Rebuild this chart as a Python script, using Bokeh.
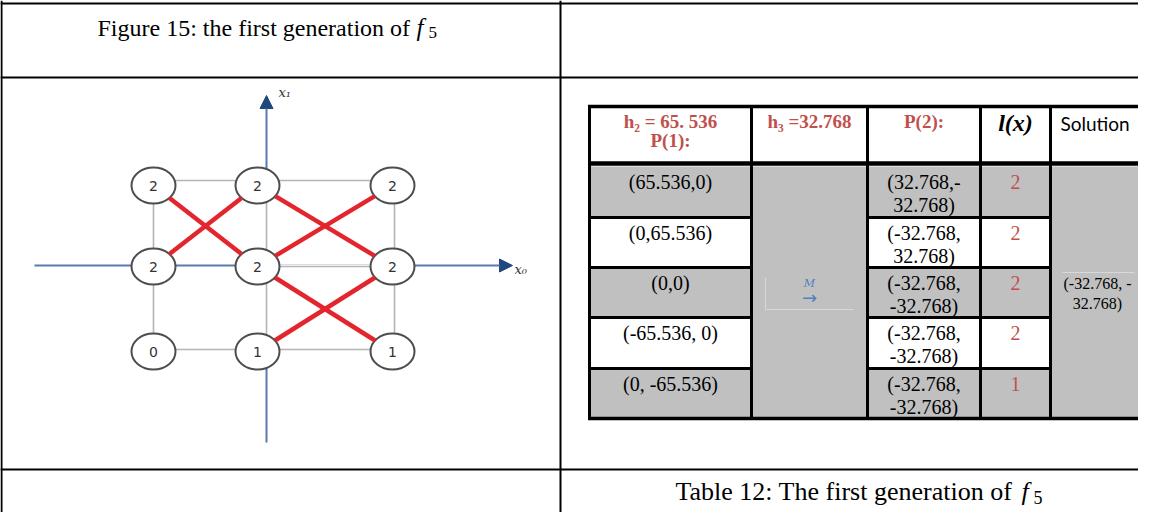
import math
from bokeh.plotting import figure
from bokeh.models import Range1d, Arrow, NormalHead
from bokeh.core.properties import value
from bokeh.embed import file_html
from bokeh.resources import INLINE

# ---------------- data ----------------
figure_caption = "Figure 15: the first generation of"
table_caption = "Table 12: The first generation of"
caption_func = "f"
caption_sub = "5"

# diagram nodes (grid coordinates x0, x1) and their l(x) values
node_x0 = [-1, 0, 1, -1, 0, 1, -1, 0, 1]
node_x1 = [1, 1, 1, 0, 0, 0, -1, -1, -1]
node_val = ["2", "2", "2", "2", "2", "2", "0", "1", "1"]
# red (generation) links between nodes
red_from = [0, 3, 1, 4, 4, 7]
red_to = [4, 1, 5, 2, 8, 5]
# dotted grid links
grid_from = [0, 1, 4, 6, 7, 0, 3, 1, 4, 2, 5]
grid_to = [1, 2, 5, 7, 8, 3, 6, 4, 7, 5, 8]
axis_labels = ["x\u2081", "x\u2080"]

# table
header_p1 = ["h\u2082 = 65. 536", "P(1):"]
header_h3 = "h\u2083 =32.768"
header_p2 = "P(2):"
header_lx = "l(x)"
header_sol = "Solution"
p1_points = ["(65.536,0)", "(0,65.536)", "(0,0)", "(-65.536, 0)", "(0, -65.536)"]
p2_line1 = ["(32.768,-", "(-32.768,", "(-32.768,", "(-32.768,", "(-32.768,"]
p2_line2 = ["32.768)", "32.768)", "-32.768)", "-32.768)", "-32.768)"]
lx_values = ["2", "2", "2", "2", "1"]
solution_lines = ["(-32.768, -", "32.768)"]
mutation_label = "M"
mutation_arrow = "\u2192"

# ---------------- layout (reference pixel frame) ----------------
SERIF = value("Liberation Serif")
RED_T = "#c0504d"
GRAY = "#c0c0c0"

p = figure(width=1138, height=512, x_range=Range1d(0, 1138), y_range=Range1d(512, 0),
           output_backend="svg", toolbar_location=None, x_axis_type=None, y_axis_type=None,
           min_border=0, outline_line_color=None, background_fill_color="white")
p.grid.visible = False

# document frame lines
p.segment(x0=[560, 1, 0, 0, 0], y0=[0, 0, 3, 77, 469], x1=[560, 1, 1160, 1160, 1160],
          y1=[530, 530, 3, 77, 469], line_color="black", line_width=2)

# captions
p.text(x=[97], y=[27], text=[figure_caption], text_font=SERIF, text_font_size="24px",
       text_align="left", text_baseline="alphabetic", text_color="black")
p.text(x=[416], y=[27], text=[caption_func], text_font=SERIF, text_font_size="25px",
       text_font_style="italic", text_align="left", text_baseline="alphabetic", text_color="black")
p.text(x=[428], y=[32], text=[caption_sub], text_font=SERIF, text_font_size="17px",
       text_align="left", text_baseline="alphabetic", text_color="black")

p.text(x=[675], y=[491], text=[table_caption], text_font=SERIF, text_font_size="26px",
       text_align="left", text_baseline="alphabetic", text_color="black")
p.text(x=[1021], y=[491], text=[caption_func], text_font=SERIF, text_font_size="26px",
       text_font_style="italic", text_align="left", text_baseline="alphabetic", text_color="black")
p.text(x=[1033], y=[497], text=[caption_sub], text_font=SERIF, text_font_size="18px",
       text_align="left", text_baseline="alphabetic", text_color="black")

# ---------------- diagram ----------------
col_px = {-1: 153, 0: 257, 1: 392}
row_px = {1: 185, 0: 266, -1: 351}
gcol_px = {-1: 153, 0: 266, 1: 394}
grow_px = {1: 180, 0: 266, -1: 349}
AX = "#5b7bb0"
HEAD = "#1f497d"
axis_x, axis_y = 266, 265

for xs, ys, xe, ye in ((axis_x, 442, axis_x, 95), (34, axis_y, 512, axis_y)):
    p.add_layout(Arrow(end=NormalHead(size=13, fill_color=HEAD, line_color=HEAD),
                       x_start=xs, y_start=ys, x_end=xe, y_end=ye,
                       line_color=AX, line_width=2, level="underlay"))
p.text(x=[278, 514], y=[92, 269], text=axis_labels, text_font=value("DejaVu Serif"),
       text_font_size="13px", text_font_style="italic", text_color="#333333",
       text_align="left", text_baseline="middle")

gx0 = [gcol_px[node_x0[a]] for a in grid_from]
gy0 = [grow_px[node_x1[a]] for a in grid_from]
gx1 = [gcol_px[node_x0[b]] for b in grid_to]
gy1 = [grow_px[node_x1[b]] for b in grid_to]
p.segment(x0=gx0, y0=gy0, x1=gx1, y1=gy1, line_color="white", line_width=4)
p.segment(x0=gx0, y0=gy0, x1=gx1, y1=gy1, line_color="#6a6a6a", line_width=1.6,
          line_dash="1 1")

nx = [col_px[v] for v in node_x0]
ny = [row_px[v] for v in node_x1]
EW, EH = 44, 36
p.ellipse(x=nx, y=ny, width=EW, height=EH, width_units="screen", height_units="screen",
          fill_color="white", line_color="#4d4d4d", line_width=2)
p.text(x=nx, y=ny, text=node_val, text_font=value("DejaVu Sans"), text_font_size="14px",
       text_color="#333333", text_align="center", text_baseline="middle")

a, b = EW / 2, EH / 2
rx0, ry0, rx1, ry1 = [], [], [], []
for f, t in zip(red_from, red_to):
    xa, ya, xb, yb = nx[f], ny[f], nx[t], ny[t]
    dx, dy = xb - xa, yb - ya
    s = 1.0 / math.sqrt((dx / a) ** 2 + (dy / b) ** 2)
    rx0.append(xa + dx * s); ry0.append(ya + dy * s)
    rx1.append(xb - dx * s); ry1.append(yb - dy * s)
p.segment(x0=rx0, y0=ry0, x1=rx1, y1=ry1, line_color="#e3262e", line_width=4.5)

# ---------------- table ----------------
col_edges = [589, 751, 867, 980, 1050, 1170]
row_edges = [166, 217, 267, 317, 368, 418]
t_top, t_head = 106, 163
nrows = len(p1_points)

# gray shading
gl, gr, gt, gb = [], [], [], []
for i in range(nrows):
    if i % 2 == 0:
        for c in (0, 2, 3):
            gl.append(col_edges[c]); gr.append(col_edges[c + 1])
            gt.append(row_edges[i]); gb.append(row_edges[i + 1])
for c in (1, 4):
    gl.append(col_edges[c]); gr.append(col_edges[c + 1])
    gt.append(row_edges[0]); gb.append(row_edges[-1])
p.quad(left=gl, right=gr, top=gt, bottom=gb, fill_color=GRAY, line_color=None)

# faint boxes
p.segment(x0=[765, 765, 1062], y0=[277, 309, 272], x1=[765, 853, 1134], y1=[309, 309, 272],
          line_color="#d9d9d9", line_width=1)

# borders
sx0, sy0, sx1, sy1 = [], [], [], []
for x in col_edges[:-1]:
    sx0.append(x); sy0.append(t_top - 1.5); sx1.append(x); sy1.append(row_edges[-1] + 1.5)
for y in row_edges[1:-1]:
    for c0, c1 in ((0, 1), (2, 4)):
        sx0.append(col_edges[c0]); sy0.append(y); sx1.append(col_edges[c1]); sy1.append(y)
p.segment(x0=sx0, y0=sy0, x1=sx1, y1=sy1, line_color="black", line_width=3)
p.segment(x0=[col_edges[0] - 1.5, col_edges[0] - 1.5], y0=[t_top, row_edges[-1]],
          x1=[col_edges[-1], col_edges[-1]], y1=[t_top, row_edges[-1]],
          line_color="black", line_width=3.5)
p.segment(x0=[col_edges[0] - 1.5], y0=[t_head], x1=[col_edges[-1]], y1=[t_head],
          line_color="black", line_width=4.5)

# header texts
cc = [(col_edges[i] + col_edges[i + 1]) / 2 for i in range(5)]
p.text(x=[cc[0], cc[0], cc[1], cc[2]], y=[121, 140, 121, 121],
       text=[header_p1[0], header_p1[1], header_h3, header_p2], text_font=SERIF,
       text_font_size="19px", text_font_style="bold", text_color=RED_T,
       text_align="center", text_baseline="middle")
p.text(x=[cc[3]], y=[122], text=[header_lx], text_font=SERIF, text_font_size="24px",
       text_font_style="bold italic", text_color="black", text_align="center",
       text_baseline="middle")
p.text(x=[1060], y=[123], text=[header_sol], text_font=value("Lato"), text_font_size="19px",
       text_color="black", text_align="left", text_baseline="middle")

# body texts
ry = [row_edges[i] + 15 for i in range(nrows)]
p.text(x=[cc[0]] * nrows, y=ry, text=p1_points, text_font=SERIF, text_font_size="20px",
       text_color="black", text_align="center", text_baseline="middle")
p.text(x=[cc[2]] * nrows, y=ry, text=p2_line1, text_font=SERIF, text_font_size="20px",
       text_color="black", text_align="center", text_baseline="middle")
p.text(x=[cc[2]] * nrows, y=[v + 23 for v in ry], text=p2_line2, text_font=SERIF,
       text_font_size="20px", text_color="black", text_align="center", text_baseline="middle")
p.text(x=[cc[3]] * nrows, y=ry, text=lx_values, text_font=SERIF, text_font_size="20px",
       text_color=RED_T, text_align="center", text_baseline="middle")
p.text(x=[1097, 1097], y=[283, 303], text=solution_lines, text_font=SERIF,
       text_font_size="16px", text_color="black", text_align="center", text_baseline="middle")
p.text(x=[cc[1]], y=[283], text=[mutation_label], text_font=value("DejaVu Serif"),
       text_font_size="11px", text_font_style="italic", text_color="#4f81bd",
       text_align="center", text_baseline="middle")
p.text(x=[cc[1]], y=[297], text=[mutation_arrow], text_font=value("DejaVu Sans"),
       text_font_size="18px", text_color="#4f81bd", text_align="center", text_baseline="middle")

open("out.html", "w").write(file_html(p, INLINE))
